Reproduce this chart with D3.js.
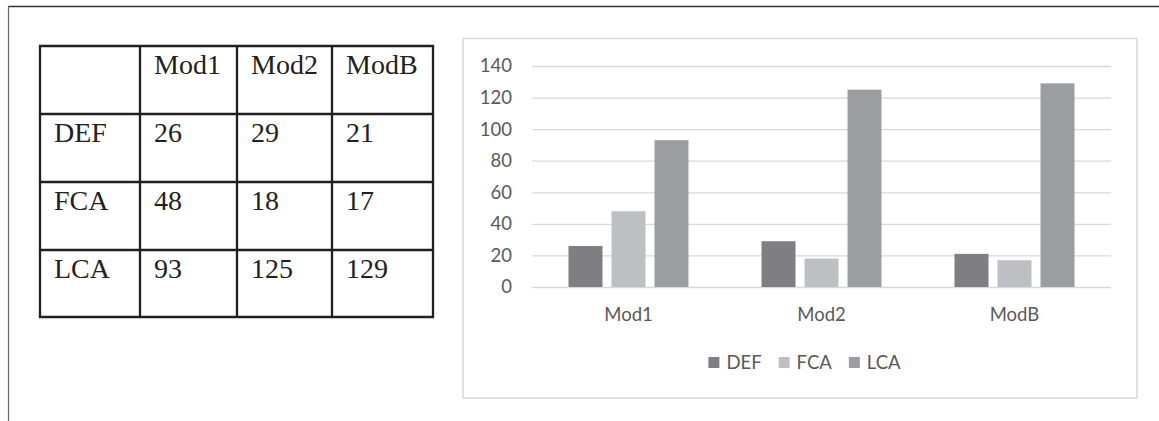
<!DOCTYPE html>
<html>
<head>
<meta charset="utf-8">
<style>
  body { margin: 0; background: #fff; }
  svg { display: block; }
</style>
</head>
<body>
<svg class="chart"></svg>

<script src="https://d3js.org/d3.v7.min.js"></script>
<script>
// data
const categories = ["Mod1", "Mod2", "ModB"]
const series = ["DEF", "FCA", "LCA"]
const DEF = [26, 29, 21]
const FCA = [48, 18, 17]
const LCA = [93, 125, 129]
const yTicks = [0, 20, 40, 60, 80, 100, 120, 140]

const values = {DEF, FCA, LCA}
const colors = {DEF: "#7f7f83", FCA: "#bebfc2", LCA: "#9c9da0"}

width = 1159
height = 421

const svg = d3.select("svg")
    .attr("width", width)
    .attr("height", height)
    .attr("viewBox", [0, 0, width, height]);

// page frame (top + left edge only)
svg.append("line")
    .attr("x1", 8).attr("x2", width).attr("y1", 6.5).attr("y2", 6.5)
    .attr("stroke", "#333").attr("stroke-width", 1.4);
svg.append("line")
    .attr("x1", 8.5).attr("x2", 8.5).attr("y1", 6).attr("y2", height)
    .attr("stroke", "#666").attr("stroke-width", 1.2);

// ---- table ----
const colX = [40, 140, 237, 332, 433]
const rowY = [46, 114, 182, 250, 317]
const ink = "#231f20"

const table = svg.append("g");

table.append("g")
    .attr("stroke", ink).attr("stroke-width", 2.3)
    .call(g => g.selectAll("line.v").data(colX).join("line")
        .attr("x1", d => d).attr("x2", d => d)
        .attr("y1", rowY[0]).attr("y2", rowY[rowY.length - 1]))
    .call(g => g.selectAll("line.h").data(rowY).join("line")
        .attr("y1", d => d).attr("y2", d => d)
        .attr("x1", colX[0] - 1.1).attr("x2", colX[colX.length - 1] + 1.1));

const cells = [["", ...categories]]
  .concat(series.map(s => [s, ...values[s].map(String)]));

table.append("g")
    .attr("font-family", "'Liberation Serif', 'Times New Roman', serif")
    .attr("font-size", 28)
    .attr("fill", ink)
  .selectAll("g")
  .data(cells)
  .join("g")
  .selectAll("text")
  .data((row, i) => row.map((t, j) => ({t, i, j})))
  .join("text")
    .attr("x", d => colX[d.j] + 14)
    .attr("y", d => rowY[d.i] + 27.5)
    .text(d => d.t);

// ---- chart ----
const box = {left: 463, top: 38.5, right: 1137, bottom: 398}
margin = ({top: 66, right: 1111, bottom: 287, left: 532})

svg.append("rect")
    .attr("x", box.left).attr("y", box.top)
    .attr("width", box.right - box.left).attr("height", box.bottom - box.top)
    .attr("fill", "#fff").attr("stroke", "#d9d9d9").attr("stroke-width", 1.5);

const x0 = d3.scaleBand()
    .domain(categories)
    .range([margin.left, margin.right]);

const groupW = 120
const x1 = d3.scaleBand()
    .domain(series)
    .range([0, groupW])
    .paddingInner(9 / 43);

const y = d3.scaleLinear()
    .domain([0, 140])
    .range([margin.bottom, margin.top]);

const font = "Lato, 'Open Sans', sans-serif"
const textColor = "#595959"

yAxis = g => g
    .attr("transform", `translate(${margin.left},0)`)
    .call(d3.axisLeft(y).tickValues(yTicks).tickSize(-(margin.right - margin.left)).tickPadding(20))
    .call(g => g.select(".domain").remove())
    .call(g => g.selectAll(".tick line").attr("stroke", "#d9d9d9").attr("stroke-width", 1.3))
    .call(g => g.selectAll(".tick text")
        .attr("fill", textColor).attr("font-size", 18.5).attr("font-family", font));

xAxis = g => g
    .attr("transform", `translate(0,${margin.bottom})`)
    .call(d3.axisBottom(x0).tickSize(0).tickPadding(21))
    .call(g => g.select(".domain").remove())
    .call(g => g.selectAll(".tick text")
        .attr("fill", textColor).attr("font-size", 18.5).attr("font-family", font));

svg.append("g").call(yAxis);

const offset = (x0.bandwidth() - groupW) / 2

svg.append("g")
  .selectAll("g")
  .data(categories)
  .join("g")
    .attr("transform", c => `translate(${x0(c) + offset},0)`)
  .selectAll("rect")
  .data((c, i) => series.map(s => ({s, v: values[s][i]})))
  .join("rect")
    .attr("x", d => x1(d.s))
    .attr("y", d => y(d.v))
    .attr("width", x1.bandwidth())
    .attr("height", d => y(0) - y(d.v))
    .attr("fill", d => colors[d.s]);

svg.append("g").call(xAxis);

// legend, centred under the plot
const legend = svg.append("g")
    .attr("font-family", font).attr("font-size", 18.5).attr("fill", textColor);

const items = legend.selectAll("g")
  .data(series)
  .join("g");

items.append("rect")
    .attr("y", 357).attr("width", 11).attr("height", 11)
    .attr("fill", d => colors[d]);
items.append("text")
    .attr("x", 18).attr("y", 368.5)
    .text(d => d);

let cursor = 0
const pos = []
items.each(function () {
  const w = 18 + this.querySelector("text").getComputedTextLength();
  pos.push(cursor);
  cursor += w + 17;
});
const total = cursor - 17
const startX = 804.5 - total / 2
items.attr("transform", (d, i) => `translate(${startX + pos[i]},0)`);
</script>
</body>
</html>
